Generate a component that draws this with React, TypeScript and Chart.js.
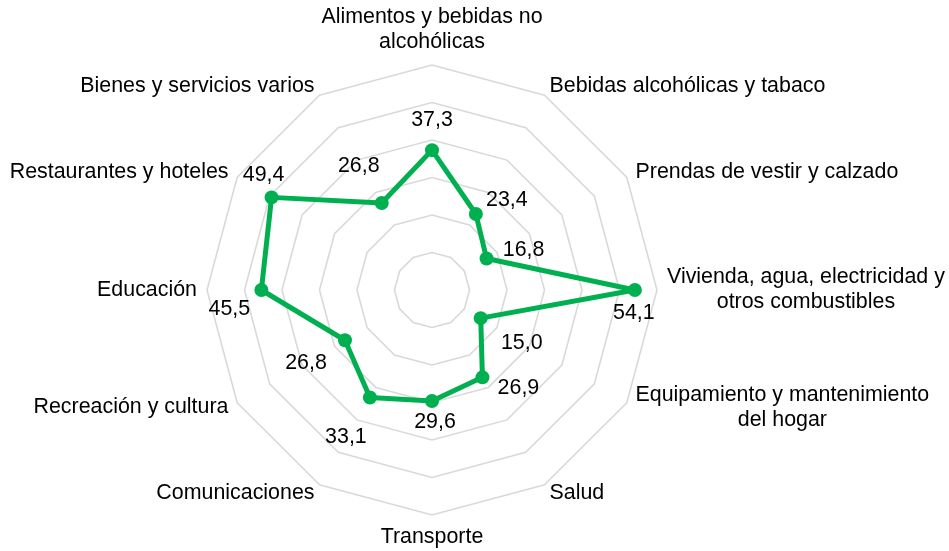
import React, { useEffect, useRef } from "react";
import { Chart, registerables } from "chart.js";

Chart.register(...registerables);

const categories: string[][] = [
  ["Alimentos y bebidas no", "alcohólicas"],
  ["Bebidas alcohólicas y tabaco"],
  ["Prendas de vestir y calzado"],
  ["Vivienda, agua, electricidad y", "otros combustibles"],
  ["Equipamiento y mantenimiento", "del hogar"],
  ["Salud"],
  ["Transporte"],
  ["Comunicaciones"],
  ["Recreación y cultura"],
  ["Educación"],
  ["Restaurantes y hoteles"],
  ["Bienes y servicios varios"],
];

const values: number[] = [37.3, 23.4, 16.8, 54.1, 15.0, 26.9, 29.6, 33.1, 26.8, 45.5, 49.4, 26.8];

// value-label offsets (text centre relative to the point), like datalabels align/offset per index
const labelOffsetX: number[] = [0, 31, 37, -1, 41, 36, 3, -24, -39, -32, -8, -23];
const labelOffsetY: number[] = [-30, -14, -8, 23, 25, 11, 21, 40, 23, 19, -22, -37];

const scaleMin = 0;
const scaleMax = 60;
const scaleStep = 10;

const FONT = '21.4px "Liberation Sans", Arial, Helvetica, sans-serif';
const GREEN = "#00b050";

const pointLabelPlugin = {
  id: "customPointLabels",
  afterDraw(chart: any) {
    const scale = chart.scales.r;
    const ctx = chart.ctx;
    ctx.save();
    ctx.font = FONT;
    ctx.fillStyle = "#000";
    ctx.textBaseline = "middle";
    ctx.textAlign = "center";
    const lh = 25;
    categories.forEach((lines, i) => {
      const pos = scale.getPointPosition(i, scale.drawingArea + 10);
      const deg = Math.round((((pos.angle + Math.PI / 2) * 180) / Math.PI + 720) % 360);
      const w = Math.max(...lines.map((l) => ctx.measureText(l).width));
      const h = lines.length * lh;
      let left: number;
      let top: number;
      if (deg === 0) {
        left = pos.x - w / 2;
        top = pos.y - h;
      } else if (deg === 180) {
        left = pos.x - w / 2;
        top = pos.y;
      } else if (deg < 180) {
        left = pos.x;
        top = pos.y - h / 2;
      } else {
        left = pos.x - w;
        top = pos.y - h / 2;
      }
      lines.forEach((l, j) => ctx.fillText(l, left + w / 2, top + lh * j + lh / 2));
    });
    ctx.restore();
  },
};

const valueLabelPlugin = {
  id: "valueLabels",
  afterDatasetsDraw(chart: any) {
    const meta = chart.getDatasetMeta(0);
    const ctx = chart.ctx;
    ctx.save();
    ctx.font = FONT;
    ctx.fillStyle = "#000";
    ctx.textBaseline = "middle";
    ctx.textAlign = "center";
    meta.data.forEach((el: any, i: number) => {
      const txt = values[i].toFixed(1).replace(".", ",");
      ctx.fillText(txt, el.x + labelOffsetX[i], el.y + labelOffsetY[i]);
    });
    ctx.restore();
  },
};

export default function App() {
  const ref = useRef<HTMLCanvasElement | null>(null);
  useEffect(() => {
    if (!ref.current) return;
    const chart = new Chart(ref.current, {
      type: "radar",
      data: {
        labels: categories,
        datasets: [
          {
            data: values,
            borderColor: GREEN,
            backgroundColor: GREEN,
            borderWidth: 5,
            borderJoinStyle: "round",
            pointRadius: 7,
            pointBorderWidth: 0,
            pointBackgroundColor: GREEN,
            fill: false,
            tension: 0,
          },
        ],
      },
      options: {
        animation: false,
        responsive: true,
        maintainAspectRatio: false,
        layout: { padding: { left: 207, right: 292, top: 65, bottom: 36 } },
        plugins: { legend: { display: false }, tooltip: { enabled: false } },
        scales: {
          r: {
            min: scaleMin,
            max: scaleMax,
            ticks: { stepSize: scaleStep, display: false },
            grid: { color: "#d9d9d9", lineWidth: 1.6, circular: false },
            angleLines: { display: false },
            pointLabels: { display: false },
          },
        },
      },
      plugins: [pointLabelPlugin, valueLabelPlugin],
    });
    return () => chart.destroy();
  }, []);
  return (
    <div style={{ position: "absolute", left: 0, top: 0, width: 949, height: 551 }}>
      <canvas ref={ref} />
    </div>
  );
}
